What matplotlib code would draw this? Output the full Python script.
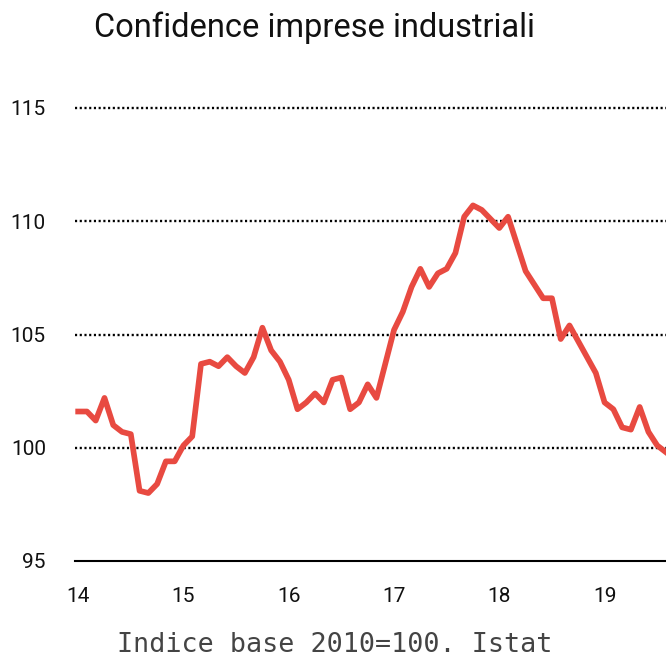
import numpy as np
import matplotlib
matplotlib.use("Agg")
import matplotlib.pyplot as plt

# Monthly index, Jan 2014 - Aug 2019 (base 2010=100)
start_year = 2014
values = [
    101.6, 101.6, 101.2, 102.2, 101.0, 100.7, 100.6, 98.1, 98.0, 98.4, 99.4, 99.4,
    100.1, 100.5, 103.7, 103.8, 103.6, 104.0, 103.6, 103.3, 104.0, 105.3, 104.3, 103.8,
    103.0, 101.7, 102.0, 102.4, 102.0, 103.0, 103.1, 101.7, 102.0, 102.8, 102.2, 103.7,
    105.2, 106.0, 107.1, 107.9, 107.1, 107.7, 107.9, 108.6, 110.2, 110.7, 110.5, 110.1,
    109.7, 110.2, 109.0, 107.8, 107.2, 106.6, 106.6, 104.8, 105.4, 104.7, 104.0, 103.3,
    102.0, 101.7, 100.9, 100.8, 101.8, 100.7, 100.1, 99.8,
]
year_ticks = [2014, 2015, 2016, 2017, 2018, 2019]
year_labels = ["14", "15", "16", "17", "18", "19"]
y_ticks = [95, 100, 105, 110, 115]

title = "Confidence imprese industriali"
source = "Indice base 2010=100. Istat"

x = start_year + np.arange(len(values)) / 12.0

plt.rcParams["font.family"] = ["Roboto", "DejaVu Sans"]

fig = plt.figure(figsize=(6.66, 6.59), dpi=100)
ax = fig.add_axes([75 / 666, (659 - 561) / 659, (666 - 75) / 666, (561 - 108) / 659])

# dotted gridlines, solid line at the base
for yv in y_ticks:
    if yv == y_ticks[0]:
        ax.axhline(yv, color="black", lw=1.5, zorder=1, clip_on=False)
    else:
        ax.axhline(yv, color="black", lw=1.7, ls=(0, (0.9, 1.1)), zorder=1, clip_on=False)

ax.plot(x, values, color="#E84A41", lw=4.1, zorder=3)

ax.set_xlim(start_year - 0.03, x[-1])
ax.set_ylim(95, 115)
ax.set_yticks(y_ticks)
ax.set_yticklabels([str(v) for v in y_ticks])
ax.set_xticks(year_ticks)
ax.set_xticklabels(year_labels)
ax.tick_params(axis="both", length=0, labelsize=15, colors="#111111")
ax.tick_params(axis="y", pad=21)
ax.tick_params(axis="x", pad=19)

for s in ax.spines.values():
    s.set_visible(False)

fig.text(314 / 666, 1 - 28 / 659, title, ha="center", va="center",
         fontsize=23.5, color="#111111")
fig.text(335 / 666, 1 - 645 / 659, source, ha="center", va="center",
         fontsize=19.3, color="#444444", family=["DejaVu Sans Mono"])

fig.savefig("out.png", dpi=100)
